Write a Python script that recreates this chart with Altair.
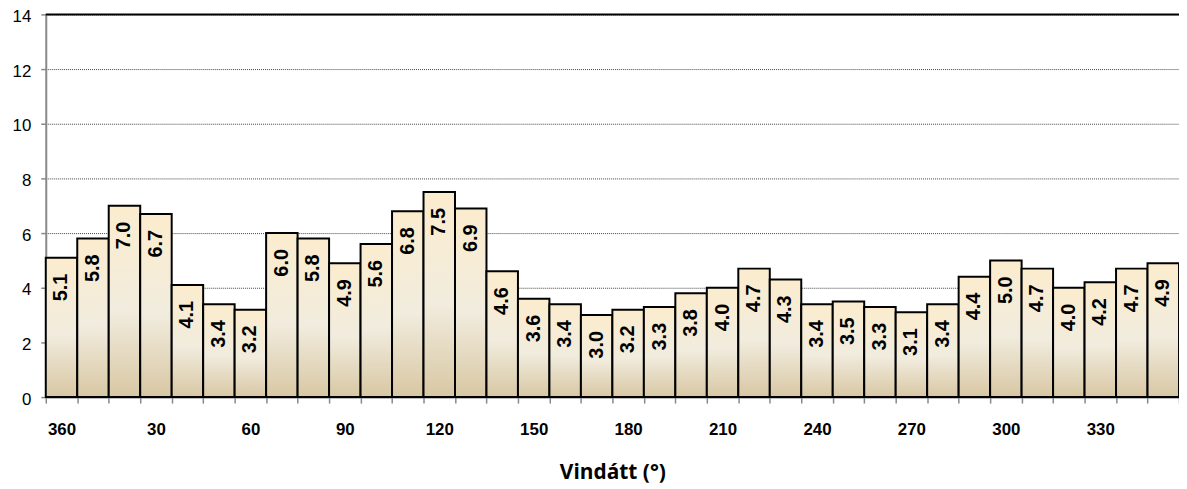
import altair as alt
import pandas as pd

# Wind direction sectors (0 is shown as 360) and mean wind speed per sector
directions = list(range(0, 360, 10))
speeds = [5.1, 5.8, 7.0, 6.7, 4.1, 3.4, 3.2, 6.0, 5.8, 4.9, 5.6, 6.8, 7.5, 6.9,
          4.6, 3.6, 3.4, 3.0, 3.2, 3.3, 3.8, 4.0, 4.7, 4.3, 3.4, 3.5, 3.3, 3.1,
          3.4, 4.4, 5.0, 4.7, 4.0, 4.2, 4.7, 4.9]
tick_values = list(range(0, 370, 10))
y_ticks = [0, 2, 4, 6, 8, 10, 12, 14]
x_title = "Vindátt (°)"

df = pd.DataFrame({
    "start": directions,
    "end": [d + 10 for d in directions],
    "mid": [d + 5 for d in directions],
    "speed": speeds,
})

W = 1140
H = 385
half_band = W / 36 / 2

gradient = {
    "gradient": "linear",
    "x1": 0, "y1": 0, "x2": 0, "y2": 1,
    "stops": [
        {"offset": 0, "color": "#FCECCE"},
        {"offset": 0.55, "color": "#F1ECDE"},
        {"offset": 1, "color": "#D8C7A3"},
    ],
}

xscale = alt.Scale(domain=[0, 360], nice=False, zero=False)
yscale = alt.Scale(domain=[0, 14], nice=False)

x_axis = alt.Axis(values=tick_values,
                  labelExpr="datum.value % 30 == 0 && datum.value < 360 ? (datum.value == 0 ? '360' : datum.label) : ''",
                  labelOffset=half_band, labelFlush=False, labelOverlap=False,
                  labelFont="Liberation Sans", labelFontSize=17, labelFontWeight="bold",
                  labelColor="black", labelPadding=19,
                  tickColor="#888888", tickSize=6, tickWidth=1.5,
                  domainColor="#888888", domainWidth=2, grid=False,
                  titleFont="Open Sans", titleFontSize=21, titleFontWeight="bold",
                  titleColor="black", titlePadding=24)
y_axis = alt.Axis(values=y_ticks, format="d",
                  labelFont="Liberation Sans", labelFontSize=17, labelColor="black",
                  labelPadding=10, labelOffset=2,
                  tickColor="#888888", tickSize=5, tickWidth=1.5,
                  domainColor="#888888", domainWidth=2,
                  grid=True, gridColor="#444444", gridDash=[1, 1], gridWidth=1)

bars = alt.Chart(df).mark_bar(fill=gradient, stroke="black", strokeWidth=2).encode(
    x=alt.X("start:Q", scale=xscale, title=x_title, axis=x_axis),
    x2="end:Q",
    y=alt.Y("speed:Q", scale=yscale, title=None, axis=y_axis),
    y2=alt.datum(0),
)

labels = alt.Chart(df).mark_text(
    angle=270, align="right", baseline="middle", dx=-16,
    font="Liberation Sans", fontSize=20, fontWeight="bold", color="black",
).encode(
    x=alt.X("mid:Q", scale=xscale, title=x_title, axis=x_axis),
    y=alt.Y("speed:Q", scale=yscale, title=None, axis=y_axis),
    text=alt.Text("speed:Q", format=".1f"),
)

top_line = alt.Chart(pd.DataFrame({"y": [14]})).mark_rule(color="black", strokeWidth=2).encode(
    y=alt.Y("y:Q", scale=yscale, title=None, axis=y_axis),
)

chart = alt.layer(bars, labels, top_line).properties(
    width=W, height=H,
    autosize=alt.AutoSizeParams(type="none"),
    padding={"left": 38, "top": 5, "right": 0, "bottom": 90},
).configure_view(stroke=None)

chart.save("out.html", embed_options={"renderer": "svg", "actions": False})
